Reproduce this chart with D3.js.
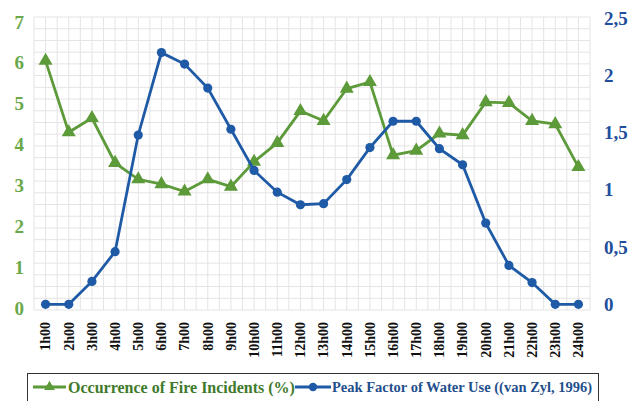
<!DOCTYPE html>
<html>
<head>
<meta charset="utf-8">
<script src="https://cdn.jsdelivr.net/npm/d3@7"></script>
<style>
  body { margin: 0; background: #fff; }
</style>
</head>
<body>
<svg id="chart"></svg>
<script>
// data
const hours = ["1h00","2h00","3h00","4h00","5h00","6h00","7h00","8h00","9h00","10h00","11h00","12h00",
               "13h00","14h00","15h00","16h00","17h00","18h00","19h00","20h00","21h00","22h00","23h00","24h00"];
const fireIncidents = [6.05, 4.3, 4.65, 3.55, 3.15, 3.03, 2.85, 3.15, 2.97, 3.58, 4.04, 4.82,
                       4.58, 5.37, 5.53, 3.74, 3.85, 4.27, 4.23, 5.04, 5.02, 4.58, 4.5, 3.45];
const peakFactor = [0, 0, 0.2, 0.46, 1.48, 2.2, 2.1, 1.89, 1.53, 1.17, 0.98, 0.87,
                    0.88, 1.09, 1.37, 1.6, 1.6, 1.36, 1.22, 0.71, 0.34, 0.19, 0, 0];
const leftTicks = [0, 1, 2, 3, 4, 5, 6, 7];
const rightTicks = [0, 0.5, 1, 1.5, 2, 2.5];
const seriesNames = ["Occurrence of Fire Incidents (%)", "Peak Factor of Water Use ((van Zyl, 1996)"];

const W = 637, H = 401;
const plot = { left: 34, right: 590, top: 17, bottom: 310 };
const green = "#5d9a3a", blue = "#1f5aa6";
const serif = "'Liberation Serif', 'Times New Roman', Times, serif";

const svg = d3.select("#chart").attr("width", W).attr("height", H);

const x = d3.scaleBand().domain(hours).range([plot.left, plot.right]);
const yLeft = d3.scaleLinear().domain([0, 7]).range([308, 22]);
const yRight = d3.scaleLinear().domain([0, 2.5]).range([304.3, 18.3]);
const gridY = d3.scaleLinear().domain([0, 25]).range([plot.bottom, plot.top]);
const gridX = d3.scaleLinear().domain([0, 48]).range([plot.left, plot.right]);
const cx = d => x(d) + x.bandwidth() / 2;

// grid
const grid = svg.append("g").attr("stroke", "#e4e4e4").attr("stroke-width", 1);
grid.selectAll(".h").data(d3.range(26)).join("line")
    .attr("x1", plot.left).attr("x2", plot.right)
    .attr("y1", d => gridY(d)).attr("y2", d => gridY(d));
grid.selectAll(".v").data(d3.range(49)).join("line")
    .attr("y1", plot.top).attr("y2", plot.bottom)
    .attr("x1", d => gridX(d)).attr("x2", d => gridX(d));

// left axis (green)
const axL = svg.append("g").attr("transform", `translate(${plot.left - 6},0)`)
    .call(d3.axisLeft(yLeft).tickValues(leftTicks).tickSize(0).tickPadding(6).tickFormat(d3.format("d")));
axL.select(".domain").remove();
axL.selectAll("text").attr("fill", "#6aa84a").attr("font-family", serif)
    .attr("font-weight", "bold").attr("font-size", 19).attr("x", -4);

// right axis (blue)
const axR = svg.append("g").attr("transform", `translate(${plot.right + 8},0)`)
    .call(d3.axisRight(yRight).tickValues(rightTicks).tickSize(0).tickPadding(6)
        .tickFormat(d => String(d).replace(".", ",")));
axR.select(".domain").remove();
axR.selectAll("text").attr("fill", "#1f4f9c").attr("font-family", serif)
    .attr("font-weight", "bold").attr("font-size", 19);

// x axis labels
const axX = svg.append("g").attr("transform", `translate(0,${plot.bottom})`)
    .call(d3.axisBottom(x).tickSize(0));
axX.select(".domain").remove();
axX.selectAll("text")
    .attr("fill", "#111")
    .attr("font-family", serif)
    .attr("font-weight", "bold")
    .attr("font-size", 14)
    .attr("transform", "rotate(-90)")
    .attr("text-anchor", "end")
    .attr("x", -12)
    .attr("y", 0)
    .attr("dy", "0.35em");

// fire incidents line
const lineL = d3.line().x((d, i) => cx(hours[i])).y(d => yLeft(d));
svg.append("path").datum(fireIncidents)
    .attr("d", lineL).attr("fill", "none").attr("stroke", green).attr("stroke-width", 2.8);

const tri = d3.symbol().type(d3.symbolTriangle).size(85);
svg.selectAll(".tri").data(fireIncidents).join("path")
    .attr("d", tri).attr("fill", green)
    .attr("transform", (d, i) => `translate(${cx(hours[i])},${yLeft(d)})`);

// peak factor line
const lineR = d3.line().x((d, i) => cx(hours[i])).y(d => yRight(d));
svg.append("path").datum(peakFactor)
    .attr("d", lineR).attr("fill", "none").attr("stroke", blue).attr("stroke-width", 2.8);

svg.selectAll(".dot").data(peakFactor).join("circle")
    .attr("cx", (d, i) => cx(hours[i])).attr("cy", d => yRight(d))
    .attr("r", 4.6).attr("fill", blue);

// legend
const lg = svg.append("g");
lg.append("rect").attr("x", 27.5).attr("y", 373.5).attr("width", 571).attr("height", 40)
    .attr("fill", "#fff").attr("stroke", "#333").attr("stroke-width", 1);

const legendY = 387;
lg.append("line").attr("x1", 33).attr("x2", 66).attr("y1", legendY).attr("y2", legendY)
    .attr("stroke", green).attr("stroke-width", 2.8);
lg.append("path").attr("d", d3.symbol().type(d3.symbolTriangle).size(50))
    .attr("fill", green).attr("transform", `translate(49.5,${legendY})`);
lg.append("text").attr("x", 68).attr("y", legendY).attr("dy", "0.35em")
    .attr("font-family", serif).attr("font-weight", "bold")
    .attr("fill", "#3f7a2b").attr("font-size", 16).text(seriesNames[0]);

lg.append("line").attr("x1", 295).attr("x2", 331).attr("y1", legendY).attr("y2", legendY)
    .attr("stroke", blue).attr("stroke-width", 2.8);
lg.append("circle").attr("cx", 313).attr("cy", legendY).attr("r", 4.2).attr("fill", blue);
lg.append("text").attr("x", 332).attr("y", legendY).attr("dy", "0.35em")
    .attr("font-family", serif).attr("font-weight", "bold")
    .attr("fill", "#1f4f8c").attr("font-size", 14.5).text(seriesNames[1]);
</script>
</body>
</html>
